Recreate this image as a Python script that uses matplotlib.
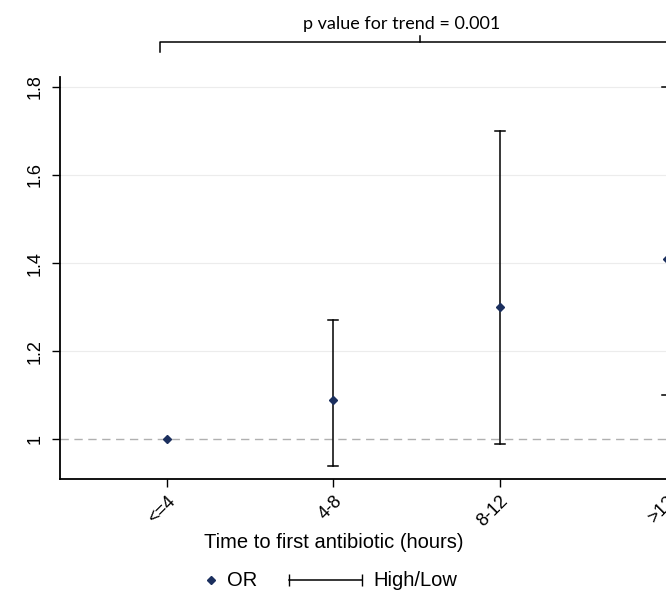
import matplotlib
matplotlib.use("Agg")
import matplotlib.pyplot as plt

# data
groups = ["<=4", "4-8", "8-12", ">12"]
odds_ratio = [1.00, 1.09, 1.30, 1.41]
ci_low = [None, 0.94, 0.99, 1.10]
ci_high = [None, 1.27, 1.70, 1.80]
y_ticks = [1, 1.2, 1.4, 1.6, 1.8]
y_tick_labels = ["1", "1.2", "1.4", "1.6", "1.8"]
trend_text = "p value for trend = 0.001"

navy = "#1b2f5e"
plt.rcParams["font.family"] = ["Liberation Sans", "DejaVu Sans"]

W, H = 666, 595
fig = plt.figure(figsize=(W / 100, H / 100), dpi=100)
ax = fig.add_axes([0.09, 0.195, 1.071, 0.676])

x = list(range(1, len(groups) + 1))

# reference line and grid
ax.axhline(1, color="#b0b0b0", lw=1, ls=(0, (6, 4)), zorder=1)
for t in y_ticks[1:]:
    ax.axhline(t, color="#ececec", lw=0.8, zorder=0)

# high/low bars
for xi, lo, hi in zip(x, ci_low, ci_high):
    if lo is None:
        continue
    ax.plot([xi, xi], [lo, hi], color="black", lw=1.1, zorder=2)
    ax.plot([xi - 0.03, xi + 0.03], [lo, lo], color="black", lw=1.1, zorder=2)
    ax.plot([xi - 0.03, xi + 0.03], [hi, hi], color="black", lw=1.1, zorder=2)

ax.plot(x, odds_ratio, ls="none", marker="D", ms=4.5, color=navy, zorder=3)

ax.set_xlim(0.36, 4.64)
ax.set_ylim(0.91, 1.823)
ax.set_xticks(x)
ax.set_xticklabels(groups, rotation=45, ha="right", va="top", rotation_mode="anchor", fontsize=13)
ax.set_yticks(y_ticks)
ax.set_yticklabels(y_tick_labels, rotation=90, va="center", fontsize=13)
ax.tick_params(axis="both", length=6, width=1, color="black")
ax.tick_params(axis="x", pad=4)
ax.tick_params(axis="y", pad=6)
for s in ["top", "right"]:
    ax.spines[s].set_visible(False)
for s in ["left", "bottom"]:
    ax.spines[s].set_linewidth(1.3)
ax.set_xlabel("Time to first antibiotic (hours)", fontsize=14.5, va="center")
ax.xaxis.set_label_coords(0.384, -0.159)

# trend bracket above the plot
top = 1.903
ax.plot([0.96, 0.96, 4.04, 4.04], [top - 0.023, top, top, top - 0.023],
        color="black", lw=1.1, clip_on=False)
ax.plot([2.52, 2.52], [top, top + 0.012], color="black", lw=1.1, clip_on=False)
ax.text(2.41, top + 0.022, trend_text, ha="center", va="bottom", fontsize=13,
        family=["Lato", "DejaVu Sans"], clip_on=False)

# legend, drawn by hand so the high/low key can be long
ly = 1 - 580 / H
fig.add_artist(plt.Line2D([211 / W], [ly], ls="none", marker="D", ms=4.5, color=navy))
fig.text(227 / W, ly, "OR", va="center", ha="left", fontsize=14.5)
fig.add_artist(plt.Line2D([289 / W, 362 / W], [ly, ly], color="black", lw=1.1,
                          marker="|", ms=8, markevery=[0, 1]))
fig.text(373 / W, ly, "High/Low", va="center", ha="left", fontsize=14.5)

fig.savefig("out.png", dpi=100)
